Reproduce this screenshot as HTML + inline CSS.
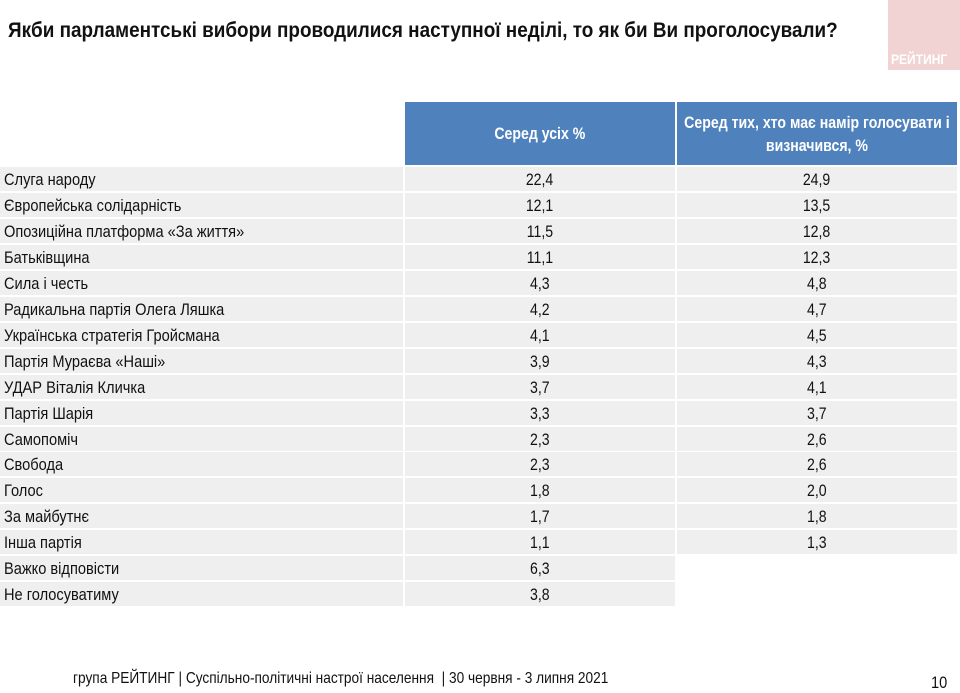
<!DOCTYPE html>
<html><head><meta charset="utf-8"><style>
body{margin:0;width:960px;height:693px;background:#fff;position:relative;overflow:hidden;font-family:"Liberation Sans",sans-serif;color:#111}
.s{display:inline-block;transform:scaleX(0.86);transform-origin:left center;white-space:nowrap}
.sc{display:inline-block;transform:scaleX(0.83);transform-origin:center center;white-space:nowrap}
.t{position:absolute;left:8px;top:19px;font-size:21px;font-weight:bold;white-space:nowrap;transform:scaleX(0.90);transform-origin:left top}
.logo{position:absolute;left:888px;top:0;width:72px;height:70px;background:#f1d3d3}
.logo span{position:absolute;left:3px;top:51px;color:#fff;font-weight:bold;font-size:14px;transform:scaleX(0.86);transform-origin:left top}
.h{position:absolute;top:102px;height:63px;background:#4f81bd;color:#fff;font-weight:bold;font-size:17px;display:flex;align-items:center;justify-content:center;text-align:center;line-height:23px;overflow:hidden}
.r{position:absolute;height:24px;background:#efefef;font-size:17px;line-height:25px}
.c1{left:0;width:403px;padding-left:4px;box-sizing:border-box}
.c2{left:405px;width:270px;text-align:center}
.c3{left:677px;width:280px;text-align:center}
.f{position:absolute;top:670px;left:73px;font-size:16px;white-space:nowrap;transform:scaleX(0.855);transform-origin:left top}
.n{position:absolute;top:673px;left:931px;font-size:17px;transform:scaleX(0.86);transform-origin:left top}
</style></head><body>
<div class="t">Якби парламентські вибори проводилися наступної неділі, то як би Ви проголосували?</div>
<div class="logo"><span>РЕЙТИНГ</span></div>
<div class="h" style="left:405px;width:270px"><span class="sc">Серед усіх %</span></div>
<div class="h" style="left:677px;width:280px"><span class="sc">Серед тих, хто має намір голосувати і<br>визначився, %</span></div>
<div id="rows"></div>
<script>
var d=[["Слуга народу","22,4","24,9"],["Європейська солідарність","12,1","13,5"],["Опозиційна платформа «За життя»","11,5","12,8"],["Батьківщина","11,1","12,3"],["Сила і честь","4,3","4,8"],["Радикальна партія Олега Ляшка","4,2","4,7"],["Українська стратегія Гройсмана","4,1","4,5"],["Партія Мураєва «Наші»","3,9","4,3"],["УДАР Віталія Кличка","3,7","4,1"],["Партія Шарія","3,3","3,7"],["Самопоміч","2,3","2,6"],["Свобода","2,3","2,6"],["Голос","1,8","2,0"],["За майбутнє","1,7","1,8"],["Інша партія","1,1","1,3"],["Важко відповісти","6,3",null],["Не голосуватиму","3,8",null]];
var h="";d.forEach(function(r,i){var y=167+i*25.95;h+='<div class="r c1" style="top:'+y+'px"><span class="s">'+r[0]+'</span></div><div class="r c2" style="top:'+y+'px"><span class="sc">'+r[1]+'</span></div>';if(r[2])h+='<div class="r c3" style="top:'+y+'px"><span class="sc">'+r[2]+'</span></div>';});
document.getElementById("rows").innerHTML=h;
</script>
<div class="f">група РЕЙТИНГ | Суспільно-політичні настрої населення &nbsp;| 30 червня - 3 липня 2021</div>
<div class="n">10</div>
</body></html>
